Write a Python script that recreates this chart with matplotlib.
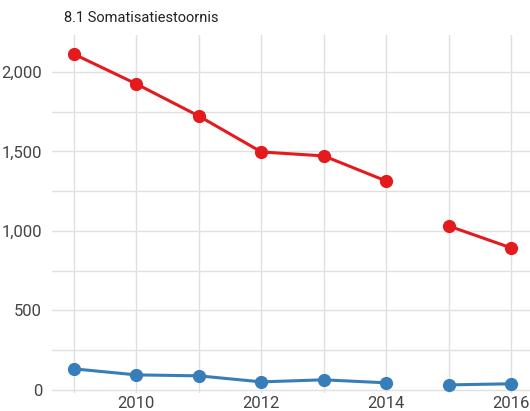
import numpy as np
import matplotlib
matplotlib.use("Agg")
import matplotlib.pyplot as plt
from matplotlib.ticker import FuncFormatter, MultipleLocator

plt.rcParams['font.family'] = ['Roboto', 'DejaVu Sans']

years = [2009, 2010, 2011, 2012, 2013, 2014, 2015, 2016]
segment = [0, 0, 0, 0, 0, 0, 1, 1]
red_values = [2113, 1925, 1723, 1497, 1472, 1314, 1031, 893]
blue_values = [132, 94, 88, 50, 63, 44, 31, 38]
title = "8.1 Somatisatiestoornis"
x_ticks = [2010, 2012, 2014, 2016]
y_ticks = [0, 500, 1000, 1500, 2000]

fig = plt.figure(figsize=(5.30, 4.11), dpi=100)
ax = fig.add_axes([52/530, 18/411, (530-52)/530, (393-35)/411])

yrs = np.array(years)
seg = np.array(segment)
for vals, col in [(red_values, '#e41a1c'), (blue_values, '#377eb8')]:
    v = np.array(vals)
    for s in np.unique(seg):
        m = seg == s
        ax.plot(yrs[m], v[m], color=col, lw=2.2, marker='o', ms=8.5, zorder=3)

ax.set_xlim(2008.65, 2016.3)
ax.set_ylim(-20, 2233)
ax.set_xticks(x_ticks)
ax.xaxis.set_minor_locator(MultipleLocator(1))
ax.set_yticks(y_ticks)
ax.yaxis.set_minor_locator(MultipleLocator(250))
ax.yaxis.set_major_formatter(FuncFormatter(lambda v, p: f"{int(v):,}"))
ax.grid(True, which='both', color='#e0e0e0', lw=1)
ax.set_axisbelow(True)
for s in ax.spines.values():
    s.set_visible(False)
ax.tick_params(which='both', length=0, labelsize=12, colors='#444444')
ax.tick_params(axis='y', pad=7)
ax.tick_params(axis='x', pad=2)

fig.text(64/530, 1 - 18/411, title, fontsize=10.5, color='#222222', va='center', ha='left')

fig.savefig("out.png", dpi=100, facecolor='white')
